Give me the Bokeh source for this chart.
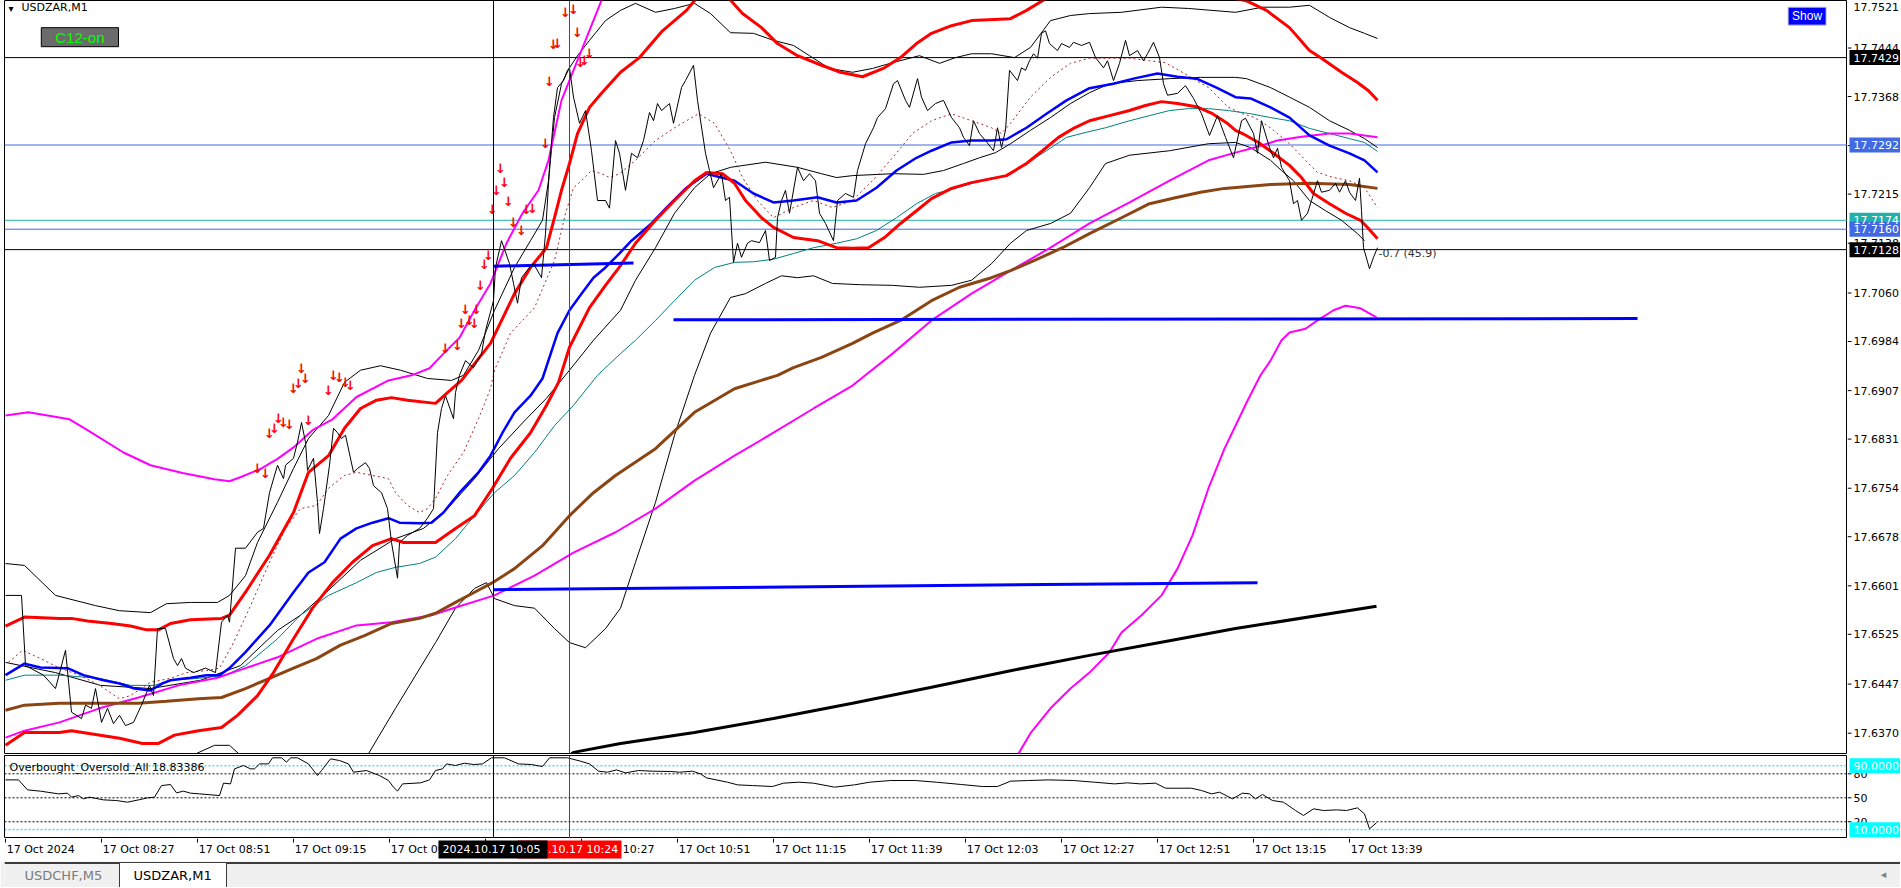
from bokeh.plotting import figure
from bokeh.layouts import column, row
from bokeh.models import Range1d, Span, Label
from bokeh.core.properties import value
from bokeh.embed import file_html
from bokeh.resources import INLINE

# ---------------- data (x = minutes since 17 Oct 2024 08:03, M1 bars) ----------------
PRICE = [
(0,17.6586),(4,17.6586),(5,17.6476),(9.5,17.6461),(12.5,17.6440),(15,17.6500),(16.5,17.6403),(19,17.6393),(20,17.6414),(21.5,17.6409),
(22.5,17.6440),(24,17.6387),(25.5,17.6409),(27,17.6385),(28.5,17.6398),(30,17.6382),(32,17.6387),(34,17.6414),(36,17.6445),(37,17.6429),
(38,17.6534),(40,17.6534),(42,17.6487),(43,17.6476),(44,17.6487),(45,17.6472),(47,17.6465),(50,17.6472),(52.5,17.6465),(54,17.6544),
(55.5,17.6555),(56,17.6544),(57.5,17.6660),(60,17.6660),(63,17.6685),(64.5,17.6691),(66,17.6747),(68,17.6790),(69.5,17.6769),(70,17.6790),
(72,17.6801),(73,17.6826),(74,17.6857),(75,17.6826),(75.5,17.6782),(77,17.6801),(78,17.6732),(78.5,17.6683),(79.5,17.6722),(81,17.6790),
(82,17.6848),(83,17.6841),(84,17.6832),(85,17.6837),(87,17.6779),(88,17.6785),(90,17.6794),(91,17.6785),(92,17.6758),(94,17.6747),
(95.5,17.6722),(96.5,17.6669),(98,17.6613),(98.5,17.6669),(100.5,17.6680),(103.5,17.6691),(105.5,17.6707),(107,17.6722),(108,17.6841),(109,17.6879),
(110,17.6899),(112,17.6863),(112.5,17.6904),(113.5,17.6931),(115,17.6954),(117,17.6943),(119,17.6965),(120,17.7001),(122,17.7048),(122.5,17.7100),
(124,17.7142),(126,17.7106),(127,17.7075),(128,17.7044),(129,17.7084),(131,17.7100),(132,17.7106),(134,17.7084),(135,17.7153),(136,17.7257),
(137,17.7335),(138,17.7382),(139.5,17.7393),(140.5,17.7409),(141,17.7413),(142,17.7367),(143.5,17.7326),(145,17.7346),(146.5,17.7283),(148,17.7205),
(150,17.7205),(151,17.7193),(152.5,17.7299),(153.5,17.7279),(155,17.7221),(156.5,17.7279),(158,17.7272),(159.5,17.7299),(161,17.7343),(162,17.7330),
(163,17.7357),(164,17.7346),(166,17.7357),(167,17.7326),(169,17.7382),(170,17.7393),(172,17.7417),(173,17.7362),(175,17.7279),(176,17.7252),
(177,17.7225),(179,17.7247),(180,17.7205),(181,17.7210),(182,17.7108),(183,17.7138),(184,17.7116),(185.5,17.7138),(186.5,17.7142),(188.5,17.7139),
(190,17.7158),(191,17.7111),(192.5,17.7116),(193,17.7178),(194,17.7205),(195,17.7221),(196,17.7185),(198,17.7257),(199.5,17.7236),(201,17.7247),
(202.5,17.7236),(203.5,17.7185),(205,17.7169),(207,17.7142),(208,17.7205),(210,17.7216),(212,17.7210),(213,17.7252),(215,17.7294),(217,17.7319),
(218,17.7335),(220,17.7349),(222,17.7388),(223,17.7393),(225,17.7362),(226,17.7351),(228,17.7396),(229,17.7367),(230.5,17.7346),(232.5,17.7357),
(234.5,17.7362),(236.5,17.7335),(238.5,17.7319),(239.5,17.7304),(241,17.7291),(242,17.7330),(243.5,17.7310),(245,17.7299),(247,17.7283),(248,17.7319),
(249,17.7288),(250,17.7315),(251,17.7409),(253,17.7393),(254,17.7413),(255,17.7409),(256,17.7424),(257,17.7435),(258,17.7428),(259,17.7467),
(260,17.7471),(261,17.7451),(263,17.7440),(264,17.7451),(266,17.7445),(267,17.7453),(269,17.7448),(271,17.7453),(272.5,17.7429),(274.5,17.7413),
(275.5,17.7424),(277,17.7393),(278.5,17.7420),(280,17.7456),(281,17.7432),(283,17.7440),(284.5,17.7424),(285.5,17.7435),(287,17.7453),(288.5,17.7429),
(289.5,17.7388),(290.5,17.7370),(293,17.7373),(295,17.7385),(297,17.7365),(299,17.7341),(301,17.7307),(303,17.7338),(305,17.7304),(307,17.7272),
(309,17.7330),(310,17.7334),(312,17.7310),(313,17.7279),(314,17.7330),(316,17.7288),(317,17.7272),(318,17.7287),(319,17.7257),(321,17.7236),
(322,17.7200),(323,17.7205),(324,17.7174),(325.5,17.7185),(326.5,17.7205),(328,17.7236),(329,17.7218),(331,17.7221),(332.5,17.7232),(333.5,17.7218),
(335,17.7236),(336,17.7218),(337.5,17.7205),(338.5,17.7240),(339,17.7189),(339.5,17.7131),(341,17.7098),(342,17.7116),(343,17.7131),
]

FAST_MA = [(0.75,17.6481),(4.25,17.6500),(8.75,17.6487),(13.5,17.6472),(18.5,17.6461),(23.5,17.6445),(28.5,17.6424),(31.25,17.6429),(36.25,17.6450),(41.25,17.6456),(45.25,17.6465),(50.25,17.6468),(53.5,17.6472),(57,17.6512),(61,17.6566),(66,17.6638),(70,17.6691),(73.75,17.6722),(77.75,17.6727),(80.75,17.6754),(84.75,17.6774),(87.75,17.6779),(91.75,17.6774),(95.75,17.6769),(97.5,17.6747),(100.5,17.6727),(103.5,17.6716),(105.5,17.6722),(107.5,17.6738),(110.5,17.6774),(114.5,17.6810),(118.25,17.6863),(121.25,17.6910),(122.25,17.6939),(126.25,17.6997),(132.25,17.7037),(137.25,17.7111),(140,17.7185),(142,17.7225),(144,17.7236),(146.5,17.7252),(149,17.7247),(151,17.7241),(153.5,17.7247),(157.5,17.7268),(162.5,17.7299),(167.25,17.7319),(173.25,17.7341),(177.25,17.7326),(181.25,17.7283),(184.25,17.7241),(188,17.7205),(192,17.7178),(197,17.7194),(202,17.7205),(206.75,17.7194),(211.75,17.7205),(216.75,17.7236),(221.75,17.7272),(226.75,17.7310),(231.5,17.7330),(236.5,17.7341),(241.5,17.7330),(246.5,17.7319),(249,17.7310),(251.25,17.7326),(256.25,17.7367),(261.25,17.7398),(266.25,17.7420),(271,17.7428),(276,17.7428),(281,17.7428),(286,17.7424),(290,17.7421),(294.75,17.7404),(300.75,17.7382),(305.75,17.7351),(309.25,17.7341),(312.25,17.7335),(316.25,17.7319),(321,17.7294),(325,17.7268),(328,17.7249),(332,17.7241),(336,17.7236),(339.75,17.7225),(343,17.7194)]

BLUE_MA = [(0,17.6461),(4.75,17.6479),(8.75,17.6473),(15.5,17.6472),(19.5,17.6461),(24.5,17.6453),(28.5,17.6448),(32.25,17.6440),(36.25,17.6437),(39.25,17.6448),(41.25,17.6453),(46.25,17.6457),(50.25,17.6461),(53.5,17.6461),(56,17.6472),(60,17.6497),(66,17.6539),(72,17.6591),(75.75,17.6622),(79.75,17.6638),(83.75,17.6675),(87.75,17.6691),(91.75,17.6700),(95.75,17.6707),(98.5,17.6700),(103.5,17.6699),(106.5,17.6700),(109.5,17.6716),(113.5,17.6747),(118.25,17.6779),(121.25,17.6805),(124.25,17.6841),(127.25,17.6873),(131.25,17.6899),(134.25,17.6926),(138,17.6997),(141,17.7033),(144,17.7059),(147,17.7084),(150,17.7100),(153.5,17.7122),(156.5,17.7142),(161.5,17.7169),(165.25,17.7194),(170.25,17.7225),(175.25,17.7247),(182.25,17.7236),(187,17.7216),(192,17.7202),(197,17.7205),(203,17.7210),(207.75,17.7202),(212.75,17.7205),(217.75,17.7225),(222.75,17.7252),(227.75,17.7272),(231.5,17.7283),(236.5,17.7296),(241.5,17.7299),(246.5,17.7299),(250.25,17.7301),(255.25,17.7319),(260.25,17.7341),(265.25,17.7362),(271,17.7381),(277,17.7388),(282,17.7396),(288,17.7404),(293,17.7399),(297.75,17.7396),(302.75,17.7382),(307.5,17.7367),(311.25,17.7365),(316.25,17.7351),(321,17.7335),(326,17.7307),(331,17.7291),(336,17.7279),(339.75,17.7268),(343,17.7249)]

RED_UPPER = [(0,17.6538),(4.75,17.6552),(13.5,17.6550),(16.5,17.6550),(20.5,17.6546),(26.5,17.6542),(31.25,17.6538),(35.25,17.6532),(38.25,17.6532),(41.25,17.6542),(46.25,17.6548),(54,17.6550),(56,17.6555),(60,17.6591),(66,17.6649),(72,17.6716),(75.75,17.6779),(80.75,17.6805),(84.75,17.6848),(88.75,17.6879),(92.75,17.6892),(96.5,17.6896),(100.5,17.6892),(107.5,17.6887),(110.5,17.6904),(114,17.6923),(121.25,17.6981),(127.25,17.7059),(131.25,17.7100),(135.25,17.7131),(137.25,17.7178),(139,17.7221),(141,17.7263),(143,17.7310),(146,17.7351),(149,17.7373),(153.75,17.7406),(158.5,17.7429),(164.25,17.7471),(170.25,17.7503),(173.25,17.7526),(176.75,17.7537),(180.25,17.7526),(184.25,17.7498),(189,17.7476),(193,17.7451),(198,17.7432),(204,17.7417),(208.75,17.7406),(214.25,17.7399),(219.75,17.7413),(223.75,17.7429),(227.75,17.7451),(231.5,17.7467),(236.5,17.7479),(241.5,17.7487),(251.25,17.7490),(255.25,17.7503),(260.25,17.7522),(266.25,17.7534),(278.75,17.7542),(293.75,17.7534),(306.25,17.7523),(310.25,17.7518),(315.25,17.7503),(321,17.7476),(326,17.7440),(329,17.7428),(334,17.7406),(338,17.7390),(340.75,17.7377),(343,17.7362)]

RED_MA = [(0,17.6351),(4.75,17.6371),(13.5,17.6371),(16.5,17.6374),(20.5,17.6370),(28.5,17.6362),(34.25,17.6354),(38.25,17.6354),(42.25,17.6367),(48.25,17.6374),(54,17.6379),(58,17.6398),(63,17.6429),(67,17.6465),(72,17.6518),(76.75,17.6566),(81.75,17.6606),(86.75,17.6638),(91.75,17.6664),(96.5,17.6675),(99.5,17.6669),(107.5,17.6669),(112.5,17.6691),(117.25,17.6711),(121.75,17.6754),(126.25,17.6801),(131.25,17.6841),(135.25,17.6884),(138.25,17.6920),(141,17.6975),(146,17.7037),(150,17.7072),(153.75,17.7103),(157.5,17.7138),(162.5,17.7174),(167.25,17.7205),(172.25,17.7236),(175.25,17.7249),(179.25,17.7247),(182.25,17.7232),(185,17.7205),(189,17.7178),(192,17.7163),(197,17.7147),(203,17.7142),(207.75,17.7131),(211.75,17.7130),(215.75,17.7131),(219.75,17.7147),(223.75,17.7169),(227.75,17.7189),(231.5,17.7208),(236.5,17.7224),(241.5,17.7233),(250.25,17.7244),(255.25,17.7263),(259.25,17.7283),(263.25,17.7304),(267.25,17.7319),(271,17.7330),(276,17.7338),(281,17.7346),(285,17.7354),(289,17.7360),(293,17.7357),(297.75,17.7352),(301.75,17.7341),(305.25,17.7327),(307.5,17.7315),(309.25,17.7310),(313.25,17.7296),(317,17.7279),(321,17.7260),(324,17.7241),(327,17.7216),(331,17.7200),(335,17.7185),(338.75,17.7174),(340.75,17.7161),(343,17.7145)]

TEAL_MA = [(0,17.6453),(4.75,17.6461),(13.5,17.6461),(23.5,17.6456),(31.25,17.6445),(37.25,17.6445),(41.25,17.6453),(48.25,17.6456),(55,17.6461),(60,17.6476),(68,17.6518),(73.75,17.6555),(80.75,17.6586),(87.75,17.6606),(92.75,17.6622),(97.5,17.6630),(103.5,17.6636),(107.5,17.6646),(112.5,17.6675),(117.25,17.6711),(122.25,17.6747),(127.25,17.6774),(132.25,17.6810),(137.25,17.6852),(142,17.6884),(148,17.6931),(153.75,17.6965),(157.5,17.6986),(162.5,17.7017),(167.25,17.7048),(172.25,17.7080),(177.25,17.7100),(182.25,17.7108),(187,17.7109),(192,17.7113),(197,17.7122),(202,17.7131),(207.75,17.7138),(212.75,17.7145),(217.75,17.7158),(222.75,17.7178),(227.75,17.7200),(232.5,17.7216),(237.5,17.7224),(241.5,17.7232),(246.5,17.7240),(250.25,17.7244),(255.25,17.7263),(260.25,17.7283),(265.25,17.7304),(270.25,17.7312),(275,17.7319),(281,17.7330),(286,17.7338),(291,17.7346),(295.75,17.7349),(300.75,17.7349),(305.75,17.7346),(311.25,17.7341),(316.25,17.7335),(321,17.7330),(326,17.7318),(331,17.7310),(336,17.7302),(339.75,17.7296),(343,17.7282)]

BROWN_MA = [(0,17.6406),(4.75,17.6414),(13.5,17.6417),(23.5,17.6417),(33.25,17.6417),(40.25,17.6420),(48.25,17.6424),(54,17.6426),(60,17.6440),(66,17.6456),(72,17.6472),(77.75,17.6487),(83.75,17.6508),(89.75,17.6523),(96.5,17.6542),(103.5,17.6550),(107.5,17.6558),(112.5,17.6575),(117.25,17.6591),(121.75,17.6606),(127.25,17.6628),(134.25,17.6664),(141,17.6711),(147,17.6747),(152.5,17.6774),(162.5,17.6816),(172.25,17.6873),(182.25,17.6910),(193,17.6931),(197,17.6943),(204,17.6959),(211.75,17.6981),(216.75,17.6997),(223.75,17.7017),(231.5,17.7048),(238.5,17.7069),(246.5,17.7084),(251.25,17.7095),(257.25,17.7111),(264.25,17.7131),(271,17.7153),(279,17.7178),(286,17.7200),(293,17.7210),(298.75,17.7218),(304.75,17.7224),(316.25,17.7230),(326,17.7232),(336,17.7230),(343,17.7224)]

MAGENTA_MA = [(0,17.6363),(4.75,17.6374),(13.5,17.6387),(23.5,17.6409),(33.25,17.6426),(43.25,17.6445),(53,17.6457),(60,17.6472),(68,17.6489),(77.75,17.6518),(87.75,17.6539),(96.5,17.6544),(106.5,17.6555),(112.5,17.6567),(122.25,17.6586),(132.25,17.6617),(142,17.6653),(152.5,17.6685),(162.5,17.6722),(172.25,17.6766),(182.25,17.6805),(192,17.6841),(202,17.6879),(211.75,17.6915),(221.75,17.6965),(231.5,17.7017),(241.5,17.7059),(251.25,17.7095),(261.25,17.7131),(271,17.7169),(281,17.7202),(291,17.7236),(300.75,17.7268),(307.5,17.7280),(312.25,17.7288),(318,17.7299),(324,17.7305),(331,17.7310),(336,17.7310),(343,17.7304)]

MAGENTA_UPPER = [(0,17.6868),(5.75,17.6873),(16,17.6862),(20.5,17.6845),(29.5,17.6810),(36.25,17.6790),(44.25,17.6778),(52.25,17.6768),(56,17.6765),(59,17.6772),(64,17.6785),(68,17.6800),(72,17.6818),(76.75,17.6845),(81.75,17.6862),(87.75,17.6897),(95.75,17.6923),(101.5,17.6931),(106,17.6942),(109.5,17.6965),(113.5,17.6990),(117.25,17.7033),(121.25,17.7075),(125.25,17.7138),(129.25,17.7185),(133.25,17.7221),(135.75,17.7268),(139,17.7362),(142,17.7409),(145,17.7456),(148,17.7503),(150,17.7534)]

MAGENTA_LOWER = [(250,17.6300),(253.25,17.6338),(256.25,17.6370),(261.25,17.6409),(266.25,17.6440),(271,17.6465),(276,17.6497),(279,17.6528),(284,17.6555),(289,17.6586),(293,17.6628),(296.75,17.6680),(300.75,17.6754),(304.75,17.6816),(307.5,17.6852),(310.25,17.6888),(313.75,17.6931),(316.25,17.6954),(319,17.6986),(321,17.6998),(325,17.7004),(328,17.7017),(332,17.7033),(335,17.7040),(338.75,17.7036),(342.75,17.7022)]

SLOW_MA = [(140,17.6330),(142,17.6340),(153.75,17.6354),(172.25,17.6371),(192,17.6393),(211.75,17.6417),(231.5,17.6442),(251.25,17.6468),(271,17.6492),(291,17.6515),(307.5,17.6534),(342.75,17.6569)]

BB_UPPER = [(0,17.6636),(4.75,17.6633),(12.5,17.6586),(22.5,17.6570),(28.5,17.6562),(36.25,17.6559),(40.25,17.6573),(46.25,17.6575),(53,17.6575),(56,17.6586),(60,17.6617),(63,17.6669),(68,17.6732),(72,17.6785),(75.75,17.6832),(80.75,17.6868),(84.75,17.6920),(88.75,17.6939),(93.75,17.6946),(98.75,17.6939),(105.5,17.6926),(111.5,17.6923),(114.5,17.6931),(118.25,17.6970),(122.25,17.7033),(127.25,17.7100),(131.25,17.7142),(134.25,17.7174),(135.75,17.7236),(137.25,17.7335),(139,17.7388),(141,17.7413),(143,17.7432),(146,17.7456),(150,17.7487),(153.75,17.7503),(157.5,17.7514),(162.5,17.7500),(167.25,17.7506),(172.25,17.7514),(176.25,17.7498),(181.25,17.7468),(187,17.7467),(192,17.7456),(197,17.7448),(201,17.7432),(206,17.7412),(211.75,17.7406),(216.75,17.7412),(221.75,17.7421),(228.5,17.7432),(233.5,17.7420),(237.5,17.7429),(241.5,17.7435),(246.5,17.7435),(252.25,17.7429),(256.25,17.7445),(261.25,17.7487),(266.25,17.7495),(271,17.7498),(279,17.7500),(289,17.7508),(295.75,17.7506),(307.5,17.7500),(314.25,17.7508),(321,17.7508),(326,17.7511),(331,17.7492),(336,17.7476),(339.75,17.7467),(343,17.7459)]

BB_MID = [(0,17.6481),(12.5,17.6465),(23.75,17.6445),(36.25,17.6440),(48.75,17.6453),(58.75,17.6476),(68,17.6531),(73.75,17.6555),(80.75,17.6594),(88.75,17.6641),(97.5,17.6675),(104.5,17.6691),(110.5,17.6722),(117.25,17.6769),(123.25,17.6816),(130.25,17.6863),(135.25,17.6895),(141,17.6939),(147,17.6986),(153.75,17.7033),(157.5,17.7080),(162.5,17.7131),(167.25,17.7185),(172.25,17.7225),(176.25,17.7247),(181.25,17.7257),(190,17.7265),(198,17.7257),(204,17.7247),(207.75,17.7241),(211.75,17.7244),(221.75,17.7247),(229.5,17.7246),(234.5,17.7252),(239.5,17.7263),(243.5,17.7272),(247.5,17.7280),(251.25,17.7294),(256.25,17.7315),(261.25,17.7335),(266.25,17.7357),(271,17.7374),(276,17.7388),(283,17.7393),(291,17.7396),(298.75,17.7398),(307.5,17.7398),(310.25,17.7396),(316.25,17.7382),(321,17.7367),(326,17.7351),(331,17.7330),(336,17.7315),(339.75,17.7302),(343,17.7288)]

BB_LOWER = [(0,17.6324),(23.75,17.6304),(38.75,17.6319),(46.25,17.6334),(52.25,17.6351),(56,17.6351),(59,17.6334),(66.25,17.6296),(78.75,17.6280),(86.25,17.6312),(90.75,17.6338),(97.5,17.6409),(107.5,17.6512),(112.5,17.6566),(117.25,17.6597),(120.25,17.6606),(122.25,17.6581),(127.25,17.6570),(132.25,17.6566),(137.25,17.6534),(141,17.6512),(145,17.6504),(150,17.6534),(153.75,17.6566),(157.5,17.6638),(162.5,17.6732),(167.25,17.6837),(172.25,17.6931),(176.25,17.6997),(181.25,17.7053),(185,17.7059),(190,17.7075),(194,17.7087),(198,17.7084),(202,17.7087),(206.75,17.7075),(213.75,17.7073),(221.75,17.7072),(228.5,17.7069),(236.5,17.7072),(241.5,17.7080),(246.5,17.7106),(251.25,17.7138),(255.25,17.7158),(261.25,17.7169),(266.25,17.7185),(271,17.7225),(275,17.7263),(281,17.7276),(291,17.7283),(300.75,17.7294),(307.5,17.7296),(311.25,17.7288),(316.25,17.7268),(319,17.7252),(322,17.7236),(326,17.7205),(330,17.7189),(334,17.7174),(338,17.7153),(339.75,17.7142)]

TREND_1 = [(122,17.7102),(157,17.7107)]
TREND_2 = [(167,17.7018),(408,17.7020)]
TREND_3 = [(122,17.6595),(313,17.6606)]

SELL_ARROWS = [(63.0,17.6785),(65.0,17.6777),(66.0,17.6840),(67.25,17.6848),(68.25,17.6863),(69.5,17.6857),(71.0,17.6854),(75.75,17.6860),(72.0,17.6910),(73.25,17.6918),(74.0,17.6942),(75.0,17.6926),(80.75,17.6907),(82.0,17.6931),(83.5,17.6928),(85.0,17.6920),(86.25,17.6915),(110.0,17.6973),(113.0,17.6978),(114.0,17.7012),(116.0,17.7017),(117.25,17.7012),(115.0,17.7034),(117.75,17.7034),(118.75,17.7072),(119.75,17.7105),(120.75,17.7119),(121.75,17.7191),(122.75,17.7221),(123.75,17.7255),(124.75,17.7233),(125.75,17.7203),(127.0,17.7171),(129.0,17.7158),(130.25,17.7191),(131.75,17.7193),(135.0,17.7294),(136.0,17.7392),(137.0,17.7450),(138.0,17.7451),(143.0,17.7468),(140.0,17.7500),(142.0,17.7504),(143.75,17.7421),(144.75,17.7424),(146.0,17.7435)]

OSCILLATOR = [(0,72.4),(3.25,72.4),(5.5,59.9),(8.75,58.3),(13.25,54.9),(15.5,55.8),(16.5,50.8),(18.25,52.8),(19.5,48.7),(21,50.8),(24.5,47.4),(27.75,46.6),(30.5,44.5),(33.25,47.4),(35.5,49.9),(37.25,50.8),(39,65.3),(41.25,66.6),(42.75,56.2),(44.5,58.3),(46.25,55.8),(48.5,54.9),(53.5,52.8),(54.5,68.3),(56.25,67.4),(57.25,86.2),(59.5,90.4),(61.25,86.2),(62.25,86.2),(63.5,92.4),(65.75,92.4),(66.75,100),(69,100),(70.25,94.5),(71.25,100),(73,100),(75.75,92.4),(78,77.8),(79,84.1),(81.25,98.7),(83.5,96.6),(85.75,92.4),(87,82.0),(90.25,84.1),(93.5,77.8),(95.75,71.6),(97,63.3),(98,58.3),(99.25,67.4),(103.75,68.7),(106,72.4),(107.5,84.1),(109.25,86.2),(110.25,92.4),(112.5,90.4),(114.75,93.3),(117,91.6),(119.25,92.4),(121.5,100),(124.75,100),(128.25,92.4),(131.5,91.6),(134.25,89.1),(136,100),(140.5,100),(143.75,95.8),(146,92.4),(148.25,83.3),(150.5,82.0),(152.75,84.9),(155,81.2),(158.25,84.1),(161.75,83.3),(166.25,82.9),(168.5,82.0),(171.75,83.3),(173.75,79.9),(175.25,74.9),(180.5,69.5),(183,66.2),(186.75,65.3),(191.75,64.1),(194.5,68.3),(198.25,69.5),(202,68.3),(207.25,63.3),(212.25,66.2),(216,69.5),(221.25,71.6),(227.5,71.6),(232.75,69.5),(239,66.6),(244.25,64.1),(248,64.1),(251.25,70.8),(255.75,71.6),(260.75,72.4),(267,71.6),(272.25,69.5),(277.25,67.4),(280.5,68.7),(283.75,67.4),(287.5,68.3),(290,62.0),(296.5,62.0),(299,59.1),(301.5,54.9),(303.5,57.0),(306.75,48.7),(309.25,55.8),(311,54.9),(312.5,48.7),(314.25,54.1),(316.75,46.6),(319.5,44.5),(322.5,34.1),(324.5,27.9),(327,36.2),(329.5,34.1),(332.75,34.9),(335.25,34.1),(338,37.4),(339.75,29.9),(341,11.2),(342.75,18.8)]
OSC_LAST = "18.83386"

PRICE_TICKS = [17.7521, 17.7444, 17.7368, 17.7291, 17.7215, 17.7138, 17.7060, 17.6984, 17.6907,
               17.6831, 17.6754, 17.6678, 17.6601, 17.6525, 17.6447, 17.6370]
TIME_TICKS = [0, 24, 48, 72, 96, 120, 144, 168, 192, 216, 240, 264, 288, 312, 336]
TIME_LABELS = ["17 Oct 2024", "17 Oct 08:27", "17 Oct 08:51", "17 Oct 09:15", "17 Oct 09:39",
               "17 Oct 10:03", "17 Oct 10:27", "17 Oct 10:51", "17 Oct 11:15", "17 Oct 11:39",
               "17 Oct 12:03", "17 Oct 12:27", "17 Oct 12:51", "17 Oct 13:15", "17 Oct 13:39"]
H_LEVELS = [17.7429, 17.7292, 17.7174, 17.7160, 17.7128]
H_LEVEL_COLORS = ["black", "#4169e1", "#20b2aa", "#4169e1", "black"]
OSC_LEVELS = [90, 80, 50, 20, 10]
OSC_TICKS = [20, 50, 80]
OSC_MARKED = [90, 10]
CROSS_T = [122, 141]
CROSS_TEXT = ["2024.10.17 10:05", "2024.10.17 10:24"]
LAST_INFO = "-0.7 (45.9)"

FONT = "DejaVu Sans"
PX_PER_PRICE = 6380.0      # vertical scale of the price window (px per 1.0 price)
PX_PER_OSC = 0.8           # vertical scale of the oscillator window
PRICE_TOP, PRICE_BOTTOM = 17.75185, 17.63382


def unzip(pairs):
    return [a for a, _ in pairs], [b for _, b in pairs]


def base_fig(**kw):
    f = figure(output_backend="svg", toolbar_location=None, x_axis_location=None,
               y_axis_location=None, **kw)
    f.grid.visible = False
    f.border_fill_color = "white"
    f.background_fill_color = "white"
    return f


# ---------------- main price window ----------------
X_RANGE = Range1d(-0.25, 460.5)
Y_PRICE = Range1d(PRICE_BOTTOM, PRICE_TOP)
p = base_fig(frame_width=1843, frame_height=753, x_range=X_RANGE, y_range=Y_PRICE,
             min_border_left=4, min_border_right=0, min_border_top=0, min_border_bottom=1)
p.outline_line_color = "black"

for lv, c in zip(H_LEVELS, H_LEVEL_COLORS):
    p.add_layout(Span(location=lv, dimension="width", line_color=c, line_width=1, level="underlay"))


def draw(pairs, color, width, dash="solid"):
    xs, ys = unzip(pairs)
    p.line(xs, ys, line_color=color, line_width=width, line_dash=dash)


draw(BB_UPPER, "black", 1)
draw(BB_MID, "black", 1)
draw(BB_LOWER, "black", 1)
draw(TEAL_MA, "#008080", 1)
draw(FAST_MA, "#a52a2a", 1, "2 3")
draw(MAGENTA_UPPER, "#ff00ff", 2)
draw(MAGENTA_MA, "#ff00ff", 2)
draw(MAGENTA_LOWER, "#ff00ff", 2)
draw(BROWN_MA, "#8b4513", 3)
draw(SLOW_MA, "black", 3)
draw(BLUE_MA, "#0000ff", 2.5)
draw(RED_MA, "#ff0000", 3)
draw(RED_UPPER, "#ff0000", 3)
draw(TREND_1, "#0000ff", 3)
draw(TREND_2, "#0000ff", 3)
draw(TREND_3, "#0000ff", 3)
draw(PRICE, "black", 1)

ax_, ay_ = unzip(SELL_ARROWS)
p.text(x=ax_, y=ay_, text=["\u2193"] * len(ax_), text_font=value(FONT), text_font_style="bold",
       text_font_size="13px", text_color="#ff0000", text_align="center", text_baseline="middle")

p.add_layout(Span(location=CROSS_T[0], dimension="height", line_color="black", line_width=1))
p.add_layout(Span(location=CROSS_T[1], dimension="height", line_color="#ff0000", line_width=1))

p.add_layout(Label(x=343.25, y=17.7122, text=LAST_INFO, text_font=FONT, text_font_size="11px",
                   text_color="#333333", text_align="left", text_baseline="middle"))

# window chrome: symbol caption and on-chart buttons
p.add_layout(Label(x=0.75, y=17.7497, text="\u25be", text_font=FONT, text_font_size="10px",
                   text_color="black", text_align="left", text_baseline="bottom"))
p.add_layout(Label(x=4.0, y=17.7497, text="USDZAR,M1", text_font=FONT, text_font_size="11px",
                   text_color="black", text_align="left", text_baseline="bottom"))
p.add_layout(Label(x=18.6, y=17.7461, text="C12-on", text_font="Liberation Sans", text_font_size="15px",
                   text_color="#00ff00", background_fill_color="#6b6b6b", border_line_color="black",
                   text_align="center", text_baseline="middle", padding=(14, 1)))
p.add_layout(Label(x=450.4, y=17.7494, text="Show", text_font="Liberation Sans", text_font_size="12px",
                   text_color="white", background_fill_color="#0000ff", border_line_color="#c8c8c8",
                   text_align="center", text_baseline="middle", padding=(4, 2)))

# ---------------- price scale (right) ----------------
ps = base_fig(frame_width=53, frame_height=753, x_range=Range1d(0, 53), y_range=Y_PRICE,
              min_border_left=0, min_border_right=0, min_border_top=0, min_border_bottom=1)
ps.outline_line_color = None
ps.segment(x0=[0] * len(PRICE_TICKS), y0=PRICE_TICKS, x1=[4] * len(PRICE_TICKS), y1=PRICE_TICKS,
           line_color="black", line_width=1)
# a label whose tick sits on the very top edge is kept inside the window
label_y = [min(v, PRICE_TOP - 6.5 / PX_PER_PRICE) for v in PRICE_TICKS]
ps.text(x=[6] * len(PRICE_TICKS), y=label_y, text=["%.4f" % v for v in PRICE_TICKS],
        text_font=value(FONT), text_font_size="11px", text_color="black",
        text_align="left", text_baseline="middle")
half = 7.5 / PX_PER_PRICE
ps.quad(left=[2] * len(H_LEVELS), right=[60] * len(H_LEVELS), bottom=[v - half for v in H_LEVELS],
        top=[v + half for v in H_LEVELS], fill_color=H_LEVEL_COLORS, line_color=None)
ps.text(x=[6] * len(H_LEVELS), y=H_LEVELS, text=["%.4f" % v for v in H_LEVELS],
        text_font=value(FONT), text_font_size="11px", text_color="white",
        text_align="left", text_baseline="middle")

# ---------------- oscillator window ----------------
Y_OSC = Range1d(-0.9, 102.9)
s = base_fig(frame_width=1843, frame_height=83, x_range=X_RANGE, y_range=Y_OSC,
             min_border_left=4, min_border_right=0, min_border_top=1, min_border_bottom=0)
s.outline_line_color = "black"
for lv in OSC_LEVELS:
    s.add_layout(Span(location=lv, dimension="width", line_color="#00c8c8" if lv in OSC_MARKED else "black",
                      line_width=1, line_dash="2 2", level="underlay"))
ox, oy = unzip(OSCILLATOR)
s.line(ox, oy, line_color="black", line_width=1)
s.add_layout(Span(location=CROSS_T[0], dimension="height", line_color="black", line_width=1))
s.add_layout(Span(location=CROSS_T[1], dimension="height", line_color="#ff0000", line_width=1))
s.add_layout(Label(x=1.0, y=88.5, text="Overbought_Oversold_All " + OSC_LAST, text_font=FONT,
                   text_font_size="11px", text_color="black", text_align="left", text_baseline="middle"))

ss = base_fig(frame_width=53, frame_height=83, x_range=Range1d(0, 53), y_range=Y_OSC,
              min_border_left=0, min_border_right=0, min_border_top=1, min_border_bottom=0)
ss.outline_line_color = None
ss.segment(x0=[0] * len(OSC_TICKS), y0=OSC_TICKS, x1=[4] * len(OSC_TICKS), y1=OSC_TICKS,
           line_color="black", line_width=1)
ss.text(x=[6] * len(OSC_TICKS), y=OSC_TICKS, text=[str(v) for v in OSC_TICKS],
        text_font=value(FONT), text_font_size="11px", text_color="black",
        text_align="left", text_baseline="middle")
ohalf = 7.5 / PX_PER_OSC
ss.quad(left=[2] * len(OSC_MARKED), right=[60] * len(OSC_MARKED), bottom=[v - ohalf for v in OSC_MARKED],
        top=[v + ohalf for v in OSC_MARKED], fill_color="#00ffff", line_color=None)
ss.text(x=[6] * len(OSC_MARKED), y=OSC_MARKED, text=["%.4f" % v for v in OSC_MARKED],
        text_font=value(FONT), text_font_size="11px", text_color="white",
        text_align="left", text_baseline="middle")

# ---------------- time scale (below) ----------------
ts = base_fig(frame_width=1843, frame_height=23, x_range=X_RANGE, y_range=Range1d(23, 0),
              min_border_left=4, min_border_right=53, min_border_top=0, min_border_bottom=0)
ts.outline_line_color = None
ts.segment(x0=TIME_TICKS, y0=[0] * len(TIME_TICKS), x1=TIME_TICKS, y1=[4] * len(TIME_TICKS),
           line_color="black", line_width=1)
ts.text(x=[t + 0.3 for t in TIME_TICKS], y=[11] * len(TIME_TICKS), text=TIME_LABELS,
        text_font=value(FONT), text_font_size="11px", text_color="black",
        text_align="left", text_baseline="middle")
# crosshair time boxes: red (10:24) underneath, black (10:05) on top
ts.quad(left=[CROSS_T[1] - 13.0], right=[CROSS_T[1] + 13.0], top=[2], bottom=[20],
        fill_color="#ff0000", line_color=None)
ts.text(x=[CROSS_T[1] - 0.1], y=[11], text=[CROSS_TEXT[1]], text_font=value(FONT), text_font_size="11px",
        text_color="white", text_align="center", text_baseline="middle")
ts.quad(left=[CROSS_T[0] - 13.75], right=[CROSS_T[0] + 13.5], top=[2], bottom=[20],
        fill_color="black", line_color=None)
ts.text(x=[CROSS_T[0] - 0.5], y=[11], text=[CROSS_TEXT[0]], text_font=value(FONT), text_font_size="11px",
        text_color="white", text_align="center", text_baseline="middle")

# ---------------- terminal tab strip ----------------
tb = base_fig(frame_width=1900, frame_height=26, x_range=Range1d(0, 1900), y_range=Range1d(26, 0),
              min_border_left=0, min_border_right=0, min_border_top=0, min_border_bottom=0)
tb.outline_line_color = None
tb.background_fill_color = "#f0f0f0"
tb.border_fill_color = "#f0f0f0"
tb.segment(x0=[0], y0=[1.5], x1=[1900], y1=[1.5], line_color="#3c3c3c", line_width=2)
tb.quad(left=[115], right=[222], top=[1], bottom=[28], fill_color="white", line_color="#3c3c3c", line_width=1)
tb.text(x=[20, 129], y=[14, 14], text=["USDCHF,M5", "USDZAR,M1"], text_font=value(FONT),
        text_font_size="13px", text_color=["#7a7a7a", "black"], text_align="left", text_baseline="middle")
tb.text(x=[1879], y=[13], text=["\u25c2"], text_font=value(FONT), text_font_size="11px",
        text_color="#808080", text_align="center", text_baseline="middle")

layout = column(row(p, ps), row(s, ss), ts, tb)
open("out.html", "w").write(file_html(layout, INLINE))
